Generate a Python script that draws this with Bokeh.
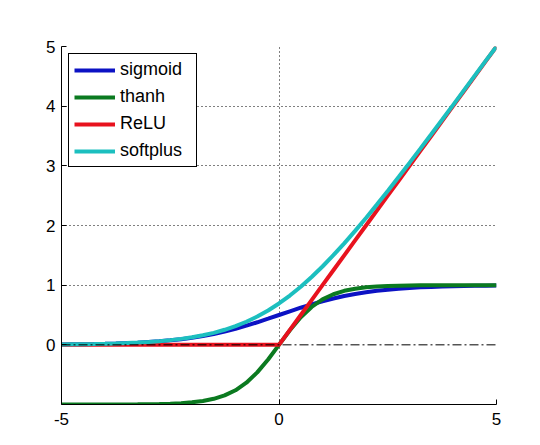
from bokeh.plotting import figure
from bokeh.models import Range1d, FixedTicker, Legend, LegendItem
from bokeh.embed import file_html
from bokeh.resources import INLINE

# ---- data ----
x_vals = [-5.0, -4.75, -4.5, -4.25, -4.0, -3.75, -3.5, -3.25, -3.0, -2.75,
          -2.5, -2.25, -2.0, -1.75, -1.5, -1.25, -1.0, -0.75, -0.5, -0.25,
          0.0, 0.25, 0.5, 0.75, 1.0, 1.25, 1.5, 1.75, 2.0, 2.25,
          2.5, 2.75, 3.0, 3.25, 3.5, 3.75, 4.0, 4.25, 4.5, 4.75, 5.0]

sigmoid_vals = [0.007, 0.009, 0.011, 0.014, 0.018, 0.023, 0.029, 0.037, 0.047, 0.060,
                0.076, 0.095, 0.119, 0.148, 0.182, 0.223, 0.269, 0.321, 0.378, 0.438,
                0.500, 0.562, 0.622, 0.679, 0.731, 0.777, 0.818, 0.852, 0.881, 0.905,
                0.924, 0.940, 0.953, 0.963, 0.971, 0.977, 0.982, 0.986, 0.989, 0.991, 0.993]

tanh_vals = [-1.000, -1.000, -1.000, -1.000, -0.999, -0.999, -0.998, -0.997, -0.995, -0.992,
             -0.987, -0.978, -0.964, -0.941, -0.905, -0.848, -0.762, -0.635, -0.462, -0.245,
             0.000, 0.245, 0.462, 0.635, 0.762, 0.848, 0.905, 0.941, 0.964, 0.978,
             0.987, 0.992, 0.995, 0.997, 0.998, 0.999, 0.999, 1.000, 1.000, 1.000, 1.000]

relu_vals = [0.0, 0.0, 0.0, 0.0, 0.0, 0.0, 0.0, 0.0, 0.0, 0.0,
             0.0, 0.0, 0.0, 0.0, 0.0, 0.0, 0.0, 0.0, 0.0, 0.0,
             0.0, 0.25, 0.5, 0.75, 1.0, 1.25, 1.5, 1.75, 2.0, 2.25,
             2.5, 2.75, 3.0, 3.25, 3.5, 3.75, 4.0, 4.25, 4.5, 4.75, 5.0]

softplus_vals = [0.007, 0.009, 0.011, 0.014, 0.018, 0.023, 0.030, 0.038, 0.049, 0.062,
                 0.079, 0.100, 0.127, 0.160, 0.201, 0.252, 0.313, 0.387, 0.474, 0.576,
                 0.693, 0.826, 0.974, 1.137, 1.313, 1.502, 1.701, 1.910, 2.127, 2.350,
                 2.579, 2.812, 3.049, 3.288, 3.530, 3.773, 4.018, 4.264, 4.511, 4.759, 5.0]

zero_x = [-5, 5]
zero_y = [0, 0]

series_names = ["sigmoid", "thanh", "ReLU", "softplus"]
series_colors = ["#0c12c4", "#0b7a20", "#e8121e", "#1cbfbf"]

x_ticks = [-5, 0, 5]
x_tick_labels = {-5: "-5", 0: "0", 5: "5"}
y_ticks = [0, 1, 2, 3, 4, 5]
x_grid_at = [0, 5]
y_grid_at = [1, 2, 3, 4, 5]

FONT = "Liberation Sans"

p = figure(width=540, height=445, output_backend="svg", toolbar_location=None,
           x_range=Range1d(-5, 5), y_range=Range1d(-1, 5),
           min_border_left=61, min_border_right=44, min_border_top=46, min_border_bottom=41)
p.background_fill_color = "white"
p.border_fill_color = "white"
p.outline_line_color = None

# axes
for ax, ticks, standoff in ((p.xaxis[0], x_ticks, 8), (p.yaxis[0], y_ticks, 6)):
    ax.ticker = FixedTicker(ticks=ticks)
    ax.axis_line_color = "black"
    ax.axis_line_width = 1
    ax.major_tick_line_color = "black"
    ax.major_tick_in = 5
    ax.major_tick_out = 0
    ax.minor_tick_line_color = None
    ax.major_label_text_font = FONT
    ax.major_label_text_font_size = "17px"
    ax.major_label_text_color = "black"
    ax.major_label_standoff = standoff
p.xaxis[0].major_label_overrides = x_tick_labels

# grids
p.xgrid.ticker = FixedTicker(ticks=x_grid_at)
p.ygrid.ticker = FixedTicker(ticks=y_grid_at)
for g in (p.xgrid[0], p.ygrid[0]):
    g.grid_line_color = "black"
    g.grid_line_width = 1
    g.grid_line_dash = "1 3"
    g.grid_line_alpha = 1.0

all_vals = [sigmoid_vals, tanh_vals, relu_vals, softplus_vals]
renderers = []
for vals, color in zip(all_vals, series_colors):
    r = p.line(x_vals, vals, line_color=color, line_width=4)
    renderers.append(r)

p.line(zero_x, zero_y, line_color="black", line_width=1, line_dash="9 3 2 3")

legend = Legend(items=[LegendItem(label=n, renderers=[r]) for n, r in zip(series_names, renderers)])
legend.location = "top_left"
legend.margin = 7
legend.padding = 5
legend.spacing = 6
legend.glyph_width = 41
legend.glyph_height = 20
legend.label_height = 20
legend.label_width = 71
legend.label_standoff = 5
legend.label_text_font = FONT
legend.label_text_font_size = "18px"
legend.label_text_color = "black"
legend.border_line_color = "black"
legend.border_line_width = 1
legend.border_line_alpha = 1.0
legend.background_fill_color = "white"
legend.background_fill_alpha = 1.0
p.add_layout(legend)

open("out.html", "w").write(file_html(p, INLINE))
